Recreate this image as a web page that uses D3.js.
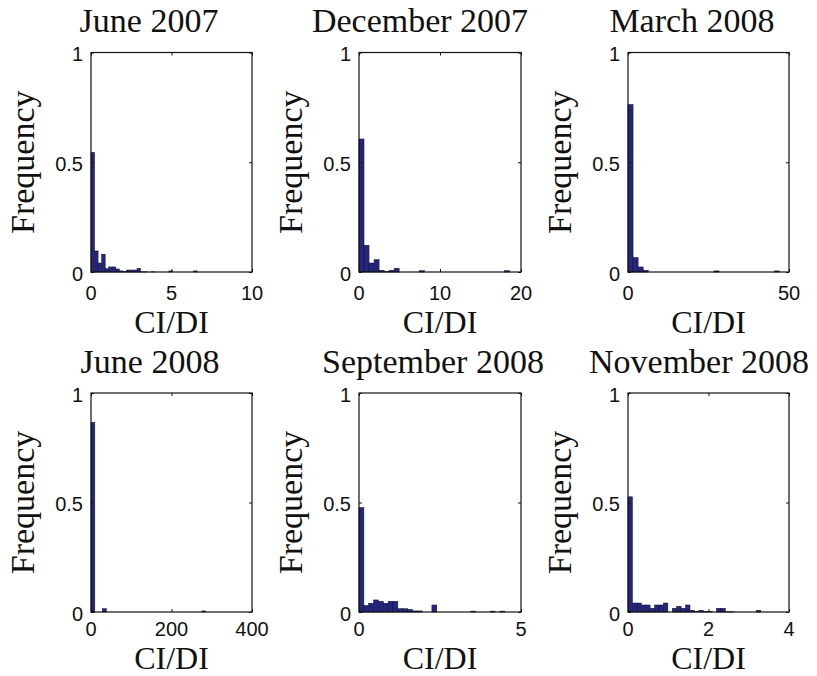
<!DOCTYPE html>
<html>
<head>
<meta charset="utf-8">
<script src="https://cdn.jsdelivr.net/npm/d3@7"></script>
<style>
  html, body { margin: 0; padding: 0; background: #fff; }
  svg { display: block; }
</style>
</head>
<body>
<svg id="chart" width="817" height="676"></svg>
<script>
// Histogram panels of the CI/DI ratio, one per survey month (30 bins each).
const months = ["June 2007", "December 2007", "March 2008",
                "June 2008", "September 2008", "November 2008"];

// Bin widths in CI/DI units (bins start at 0).
const binWidths = [0.22, 0.62, 1.57, 9.5, 0.15, 0.11];

// Relative frequency per bin.
const freqJun2007 = [0.545, 0.096, 0.041, 0.081, 0.015, 0.023, 0.023, 0.014, 0.005, 0.003,
                     0.009, 0.009, 0.009, 0.017, 0.001, 0.001, 0, 0.001, 0, 0,
                     0, 0, 0.005, 0, 0, 0, 0, 0, 0, 0.005];
const freqDec2007 = [0.606, 0.122, 0.041, 0.056, 0.008, 0.002, 0.008, 0.017, 0, 0,
                     0, 0, 0.006, 0, 0, 0, 0, 0, 0, 0,
                     0, 0, 0, 0, 0, 0, 0, 0, 0, 0.006];
const freqMar2008 = [0.763, 0.066, 0.023, 0.008, 0, 0, 0, 0, 0, 0,
                     0, 0, 0, 0, 0, 0, 0, 0.005, 0, 0,
                     0, 0, 0, 0, 0, 0, 0, 0, 0, 0.005];
const freqJun2008 = [0.866, 0, 0, 0.015, 0, 0, 0, 0, 0, 0,
                     0, 0, 0, 0, 0, 0, 0, 0, 0, 0,
                     0, 0, 0, 0, 0, 0, 0, 0, 0, 0.005];
const freqSep2008 = [0.477, 0.030, 0.040, 0.055, 0.049, 0.040, 0.049, 0.049, 0.015, 0.015,
                     0.012, 0.005, 0.005, 0, 0, 0.032, 0, 0, 0, 0,
                     0, 0, 0, 0.004, 0, 0, 0, 0.004, 0, 0.004];
const freqNov2008 = [0.526, 0.041, 0.041, 0.032, 0.032, 0.017, 0.032, 0.032, 0.041, 0,
                     0.017, 0.026, 0.017, 0.032, 0.008, 0.003, 0.008, 0.003, 0.003, 0,
                     0.017, 0.017, 0.001, 0.001, 0, 0, 0, 0, 0, 0.008];
const frequencies = [freqJun2007, freqDec2007, freqMar2008, freqJun2008, freqSep2008, freqNov2008];

// Axis limits and tick labels.
const xMax = [10, 20, 50, 400, 5, 4];
const xTicks = [[0, 5, 10], [0, 10, 20], [0, 50], [0, 200, 400], [0, 5], [0, 2, 4]];
const yTicks = [0, 0.5, 1];
const yTickLabels = ["0", "0.5", "1"];

// Panel frames; the bottom row has less room under it, so its labels sit tighter.
const colsX = [[91, 252], [359, 521], [628, 789]];
const rowsY = [[52.5, 272], [393, 612]];
const rowTickGap = [27.5, 24];
const rowLabelGap = [61, 57];
const titleCenters = [149, 420, 692, 150, 433, 699];

const svg = d3.select("#chart");
svg.append("rect").attr("width", 817).attr("height", 676).attr("fill", "#fff");

const serif = "'Liberation Serif', 'Times New Roman', serif";
const sans = "'Liberation Sans', Arial, sans-serif";

months.forEach((month, i) => {
  const row = Math.floor(i / 3);
  const [x0, x1] = colsX[i % 3];
  const [y0, y1] = rowsY[row];
  const x = d3.scaleLinear().domain([0, xMax[i]]).range([x0, x1]);
  const y = d3.scaleLinear().domain([0, 1]).range([y1, y0]);
  const g = svg.append("g");

  // bars
  const w = binWidths[i];
  g.selectAll("rect.bar")
    .data(frequencies[i].map((f, k) => ({k, f})).filter(d => d.f > 0))
    .enter().append("rect")
    .attr("class", "bar")
    .attr("x", d => x(d.k * w))
    .attr("width", d => x((d.k + 1) * w) - x(d.k * w))
    .attr("y", d => y(d.f))
    .attr("height", d => y(0) - y(d.f))
    .attr("fill", "#25257f")
    .attr("stroke", "#10102a")
    .attr("stroke-width", 0.5);

  // inward ticks on all four sides (box style)
  const tl = 3;
  const xAxB = d3.axisBottom(x).tickValues(xTicks[i]).tickSize(-tl).tickFormat("");
  const xAxT = d3.axisTop(x).tickValues(xTicks[i]).tickSize(-tl).tickFormat("");
  const yAxL = d3.axisLeft(y).tickValues(yTicks).tickSize(-tl).tickFormat("");
  const yAxR = d3.axisRight(y).tickValues(yTicks).tickSize(-tl).tickFormat("");
  [[xAxB, `translate(0,${y1})`], [xAxT, `translate(0,${y0})`],
   [yAxL, `translate(${x0},0)`], [yAxR, `translate(${x1},0)`]].forEach(([ax, tr]) => {
    const a = g.append("g").attr("transform", tr).call(ax);
    a.select(".domain").remove();
    a.selectAll("line").attr("stroke", "#111").attr("stroke-width", 1);
  });

  // frame
  g.append("rect")
    .attr("x", x0).attr("y", y0)
    .attr("width", x1 - x0).attr("height", y1 - y0)
    .attr("fill", "none").attr("stroke", "#111").attr("stroke-width", 1.2);

  // tick labels
  g.selectAll("text.xt").data(xTicks[i]).enter().append("text")
    .attr("x", d => x(d)).attr("y", y1 + rowTickGap[row])
    .attr("text-anchor", "middle")
    .attr("font-family", sans).attr("font-size", 20).attr("fill", "#111")
    .text(d => d);
  g.selectAll("text.yt").data(yTicks).enter().append("text")
    .attr("x", x0 - 8).attr("y", d => y(d) + 8.5)
    .attr("text-anchor", "end")
    .attr("font-family", sans).attr("font-size", 20).attr("fill", "#111")
    .text((d, k) => yTickLabels[k]);

  // axis titles
  g.append("text")
    .attr("x", (x0 + x1) / 2).attr("y", y1 + rowLabelGap[row])
    .attr("text-anchor", "middle")
    .attr("font-family", serif).attr("font-size", 32).attr("fill", "#111")
    .text("CI/DI");
  g.append("text")
    .attr("transform", `translate(${x0 - 57},${(y0 + y1) / 2}) rotate(-90)`)
    .attr("text-anchor", "middle")
    .attr("font-family", serif).attr("font-size", 34).attr("fill", "#111")
    .text("Frequency");

  // panel title
  g.append("text")
    .attr("x", titleCenters[i]).attr("y", y0 - 20.5)
    .attr("text-anchor", "middle")
    .attr("font-family", serif).attr("font-size", 34).attr("fill", "#111")
    .text(month);
});
</script>
</body>
</html>
